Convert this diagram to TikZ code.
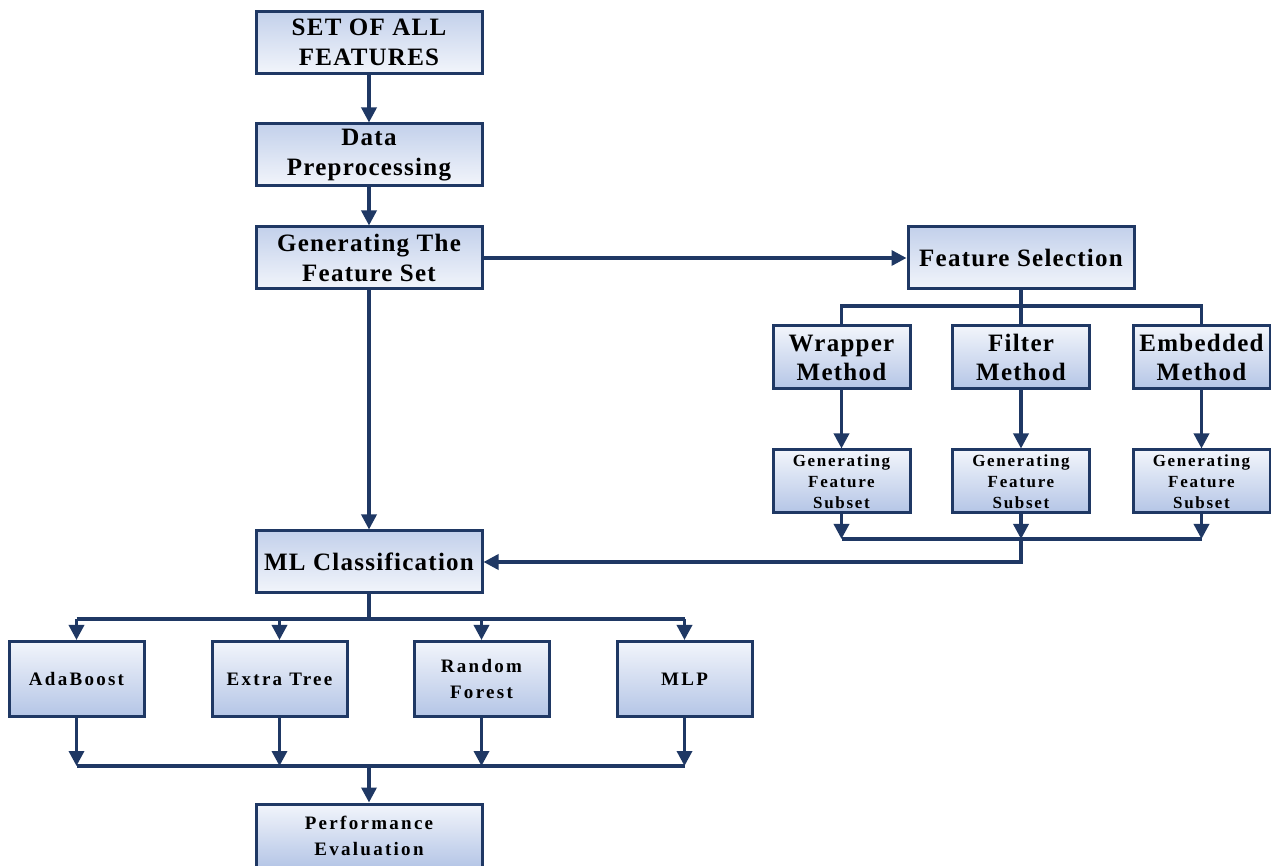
\documentclass[tikz,border=0pt]{standalone}
\usepackage{fontspec}
\setmainfont{Liberation Serif}
\newfontfamily\bigfont{Liberation Serif}[LetterSpace=5]
\newfontfamily\subfont{Liberation Serif}[LetterSpace=10]
\newfontfamily\clsfont{Liberation Serif}[LetterSpace=12]
\usetikzlibrary{arrows.meta}
\definecolor{navy}{HTML}{1F3864}
\definecolor{boxblue}{HTML}{B4C5E6}
\definecolor{boxlight}{HTML}{F2F5FB}
\begin{document}
\begin{tikzpicture}[x=0.5pt,y=-0.5pt,
  box/.style={draw=navy, line width=1.5pt, align=center, inner sep=0pt, text=black},
  darktop/.style={top color=boxblue!80, bottom color=boxlight},
  lighttop/.style={top color=boxlight, bottom color=boxblue},
  bigbox/.style={box, darktop, minimum width=113pt, minimum height=31pt,
    font=\bigfont\bfseries\fontsize{12.5}{15}\selectfont},
  methodbox/.style={box, lighttop, minimum width=68.5pt, minimum height=31.5pt,
    font=\bigfont\bfseries\fontsize{12.5}{14.5}\selectfont},
  subsetbox/.style={box, lighttop, minimum width=68.5pt, minimum height=31.5pt,
    font=\subfont\bfseries\fontsize{8.5}{10.5}\selectfont},
  clsbox/.style={box, lighttop, minimum width=67.5pt, minimum height=37.5pt,
    font=\clsfont\bfseries\fontsize{9.5}{13}\selectfont},
  evalbox/.style={box, lighttop, minimum width=113pt, minimum height=32pt,
    font=\clsfont\bfseries\fontsize{9.5}{13}\selectfont},
  link/.style={draw=navy, line width=1.7pt},
  arr/.style={link, -{Triangle[width=7.5pt,length=7.5pt]}}]
\useasboundingbox (0,0) rectangle (1271,866);

% main column
\node[bigbox] (set)  at (369,42.5) {SET OF ALL\\FEATURES};
\node[bigbox] (data) at (369,155)  {Data\\Preprocessing};
\node[bigbox] (gen)  at (369,258)  {Generating The\\Feature Set};
\node[bigbox] (ml)   at (369,562)  {ML Classification};

% feature selection branch
\node[bigbox] (fs)   at (1021,258) {Feature Selection};
\node[methodbox] (wrap) at (841.5,357.5) {Wrapper\\Method};
\node[methodbox] (filt) at (1021,357.5)  {Filter\\Method};
\node[methodbox] (emb)  at (1201.5,357.5) {Embedded\\Method};
\node[subsetbox] (wsub) at (841.5,481.5) {Generating\\Feature\\Subset};
\node[subsetbox] (fsub) at (1021,481.5)  {Generating\\Feature\\Subset};
\node[subsetbox] (esub) at (1201.5,481.5) {Generating\\Feature\\Subset};

% classifiers
\node[clsbox] (ada) at (76.5,679)  {AdaBoost};
\node[clsbox] (ext) at (279.5,679) {Extra Tree};
\node[clsbox] (rf)  at (481.5,679) {Random\\Forest};
\node[clsbox] (mlp) at (684.5,679) {MLP};
\node[evalbox] (perf) at (369,836) {Performance\\Evaluation};

% junction points
\coordinate (fsbus)  at (1021,306);
\coordinate (subbus) at (1021,539);
\coordinate (turn)   at (1021,562);
\coordinate (mlbus)  at (369,619);
\coordinate (evbus)  at (369,766);

% main flow
\draw[arr] (set) -- (data);
\draw[arr] (data) -- (gen);
\draw[arr] (gen.east) -- (fs.west);
\draw[arr] (gen) -- (ml);

% feature selection fan-out
\draw[link] (fs.south) -- (filt.north);
\draw[link] (wrap.north) -- (wrap.north |- fsbus) -- (emb.north |- fsbus) -- (emb.north);
\draw[arr] (wrap) -- (wsub);
\draw[arr] (filt) -- (fsub);
\draw[arr] (emb) -- (esub);

% subsets merge back into classification
\draw[arr] (wsub.south) -- (wsub.south |- subbus);
\draw[arr] (fsub.south) -- (subbus);
\draw[arr] (esub.south) -- (esub.south |- subbus);
\draw[link] (wsub.south |- subbus) -- (esub.south |- subbus);
\draw[arr] (subbus) -- (turn) -- (turn -| ml.east);

% classification fan-out
\draw[link] (ml.south) -- (mlbus);
\draw[link] (ada.north |- mlbus) -- (mlp.north |- mlbus);
\foreach \c in {ada,ext,rf,mlp}
  \draw[arr] (\c.north |- mlbus) -- (\c.north);

% merge into evaluation
\foreach \c in {ada,ext,rf,mlp}
  \draw[arr] (\c.south) -- (\c.south |- evbus);
\draw[link] (ada.south |- evbus) -- (mlp.south |- evbus);
\draw[arr] (evbus) -- (perf.north);
\end{tikzpicture}
\end{document}
